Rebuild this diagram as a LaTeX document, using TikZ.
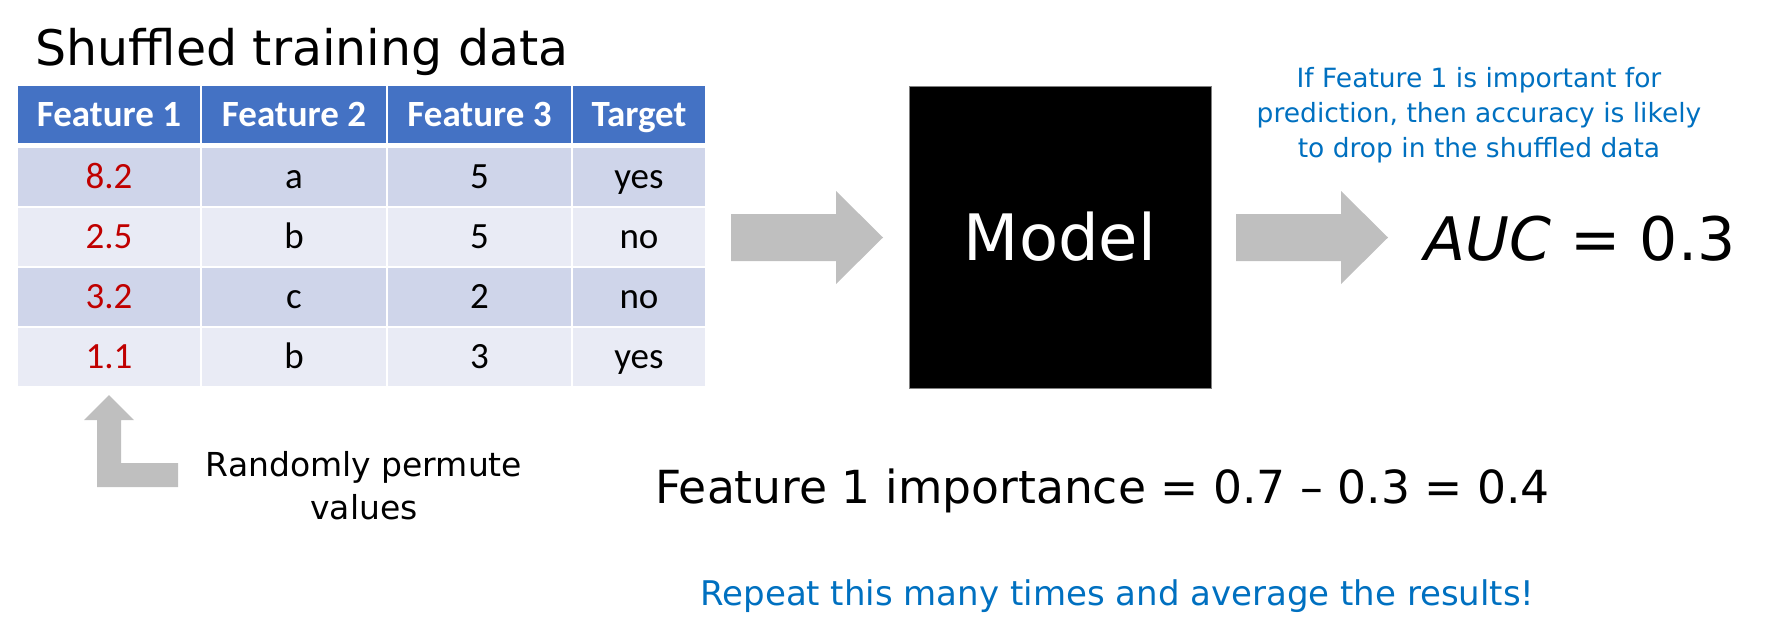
\documentclass[tikz,border=0pt]{standalone}
\usepackage{fontspec}
\setmainfont{DejaVu Sans}
\newfontfamily\tablefont{Carlito}
\usetikzlibrary{positioning, calc}
\definecolor{headblue}{HTML}{4472C4}
\definecolor{rowdark}{HTML}{CFD5EA}
\definecolor{rowlight}{HTML}{E9EBF5}
\definecolor{arrowgray}{HTML}{BFBFBF}
\definecolor{noteblue}{HTML}{0070C0}
\definecolor{valred}{HTML}{C00000}

\begin{document}
\begin{tikzpicture}[
    x=0.5pt, y=-0.5pt,
    hdr/.style={fill=headblue, text=white, minimum height=28.5pt, inner sep=0pt, text height=14pt, text depth=2.1pt, font=\tablefont\bfseries\fontsize{18.5}{20}\selectfont},
    cell/.style={minimum height=29pt, inner sep=0pt, text height=14pt, text depth=2.1pt, font=\tablefont\fontsize{18.5}{20}\selectfont},
    blockarrow/.style={fill=arrowgray},
    note/.style={text=noteblue, align=center, inner sep=0pt, font=\fontsize{13.25}{17.5}\selectfont}
]
    \useasboundingbox (0,0) rectangle (1779,637);

    % Title and table
    \node[anchor=base west, inner sep=0pt, font=\fontsize{24.5}{28}\selectfont] (title) at (35,65) {Shuffled training data};
    \node[hdr, minimum width=91pt] (h1) at (109,114.5) {Feature 1};
    \node[hdr, minimum width=92pt] (h2) at (294,114.5) {Feature 2};
    \node[hdr, minimum width=91.5pt] (h3) at (479.5,114.5) {Feature 3};
    \node[hdr, minimum width=66pt] (h4) at (639,114.5) {Target};
    \foreach \fa/\fb/\fc/\tg [count=\i] in {8.2/a/5/yes, 2.5/b/5/no, 3.2/c/2/no, 1.1/b/3/yes} {
        \pgfmathsetmacro\ry{177+60*(\i-1)}
        \ifodd\i \def\rowfill{rowdark}\else \def\rowfill{rowlight}\fi
        \node[cell, fill=\rowfill, minimum width=91pt, text=valred] (a\i) at (109,\ry) {\fa};
        \node[cell, fill=\rowfill, minimum width=92pt] (b\i) at (294,\ry) {\fb};
        \node[cell, fill=\rowfill, minimum width=91.5pt] (c\i) at (479.5,\ry) {\fc};
        \node[cell, fill=\rowfill, minimum width=66pt] (t\i) at (639,\ry) {\tg};
    }

    % Permutation hint
    \fill[blockarrow] (97,487) -- (97,420) -- (84,420) -- (109,395) -- (134,420) -- (121,420) -- (121,463) -- (178,463) -- (178,487) -- cycle;
    \node[align=center, inner sep=0pt, font=\fontsize{16.5}{21.5}\selectfont] (permute) at (364,486) {Randomly permute\\values};

    % Model and block arrows
    \node[draw=gray, fill=black, minimum width=151pt, minimum height=151pt, text=white, font=\fontsize{32}{36}\selectfont] (model) at (1060,237) {Model};
    \foreach \dx in {0,505}
        \fill[blockarrow, xshift=\dx*0.5pt] (731,214) -- (836,214) -- (836,191) -- (883,237.5) -- (836,284) -- (836,261) -- (731,261) -- cycle;

    % Results
    \node[anchor=base, inner sep=0pt, font=\fontsize{30}{34}\selectfont] (auc) at (1580,260) {\textit{AUC} = 0.3};
    \node[note] (hint) at (1479,115) {If Feature 1 is important for\\prediction, then accuracy is likely\\to drop in the shuffled data};
    \node[anchor=base, inner sep=0pt, font=\fontsize{22.8}{28}\selectfont] (importance) at (1102.5,503) {Feature 1 importance = 0.7 – 0.3 = 0.4};
    \node[anchor=base, inner sep=0pt, text=noteblue, font=\fontsize{17}{20}\selectfont] (repeat) at (1117.5,605) {Repeat this many times and average the results!};
\end{tikzpicture}
\end{document}
